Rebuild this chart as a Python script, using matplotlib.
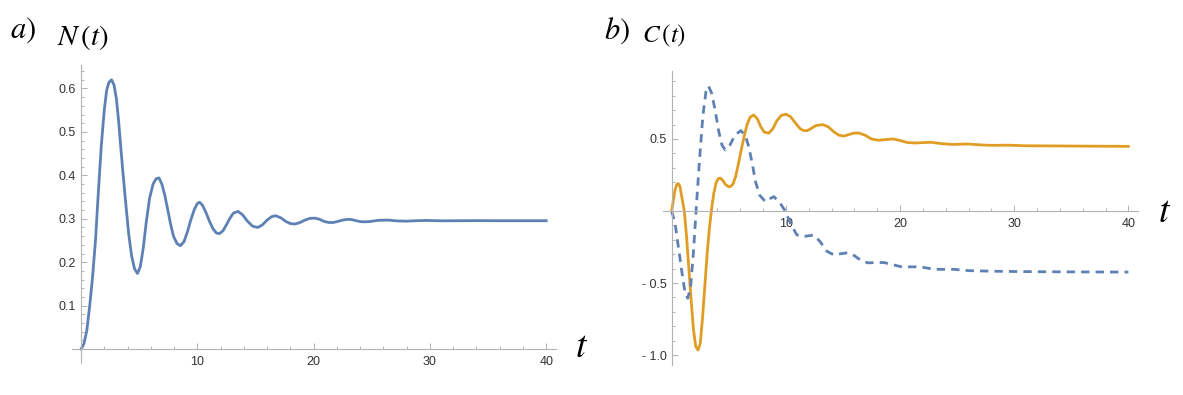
import numpy as np
import matplotlib
matplotlib.use("Agg")
from matplotlib import pyplot as plt
from matplotlib.ticker import FixedLocator, FixedFormatter

# panel a) N(t)
t_n = [0, 0.25, 0.5, 0.75, 1.0, 1.25, 1.5, 1.75, 2.0, 2.2, 2.4, 2.63, 2.85, 3.05,
       3.25, 3.45, 3.65, 3.85, 4.1, 4.35, 4.6, 4.86, 5.1, 5.35, 5.6, 5.9, 6.2, 6.45,
       6.71, 6.95, 7.2, 7.45, 7.7, 7.95, 8.25, 8.54, 8.85, 9.15, 9.45, 9.75, 10.0,
       10.2, 10.45, 10.75, 11.05, 11.35, 11.65, 11.91, 12.2, 12.5, 12.8, 13.1, 13.5,
       13.9, 14.3, 14.75, 15.2, 15.6, 16.0, 16.4, 16.75, 17.2, 17.6, 18.0, 18.4,
       18.8, 19.25, 19.7, 20.1, 20.5, 20.9, 21.3, 21.7, 22.1, 22.5, 22.85, 23.2,
       23.6, 24.0, 24.4, 24.8, 25.6, 26.4, 27.2, 28.0, 28.8, 29.6, 31, 32.5, 34,
       36, 38, 40]
n_vals = [0.000, 0.012, 0.043, 0.100, 0.168, 0.252, 0.365, 0.470, 0.550, 0.595,
          0.614, 0.620, 0.607, 0.575, 0.520, 0.455, 0.393, 0.335, 0.265, 0.215,
          0.185, 0.174, 0.190, 0.232, 0.290, 0.348, 0.380, 0.392, 0.394, 0.380,
          0.355, 0.322, 0.288, 0.260, 0.243, 0.238, 0.247, 0.270, 0.298, 0.322,
          0.335, 0.338, 0.331, 0.314, 0.294, 0.277, 0.267, 0.266, 0.272, 0.286,
          0.301, 0.313, 0.317, 0.309, 0.295, 0.283, 0.280, 0.286, 0.297, 0.305,
          0.307, 0.302, 0.294, 0.289, 0.288, 0.291, 0.297, 0.301, 0.3015, 0.299,
          0.294, 0.2915, 0.2915, 0.294, 0.297, 0.2985, 0.2985, 0.296, 0.2935,
          0.293, 0.2935, 0.2965, 0.297, 0.295, 0.2945, 0.2955, 0.2962, 0.2953,
          0.2955, 0.2957, 0.2955, 0.2955, 0.2955]

# panel b) C(t), solid orange
t_c1 = [0, 0.15, 0.3, 0.45, 0.58, 0.72, 0.9, 1.1, 1.3, 1.5, 1.7, 1.9, 2.1, 2.3,
        2.5, 2.7, 2.9, 3.1, 3.3, 3.5, 3.7, 3.9, 4.1, 4.24, 4.45, 4.7, 4.95, 5.12,
        5.35, 5.6, 5.85, 6.1, 6.35, 6.6, 6.85, 7.18, 7.5, 7.8, 8.1, 8.5, 8.85, 9.2,
        9.6, 10.0, 10.4, 10.8, 11.2, 11.5, 11.84, 12.2, 12.6, 13.2, 13.7, 14.2,
        14.6, 15.04, 15.5, 15.9, 16.35, 16.9, 17.5, 18.1, 18.7, 19.4, 20.0, 20.6,
        21.3, 22.0, 22.7, 23.6, 24.6, 25.3, 26.0, 27.0, 28.0, 29.5, 31, 33, 35,
        37.5, 40]
c1_vals = [0.0, 0.08, 0.15, 0.185, 0.19, 0.17, 0.09, 0.0, -0.18, -0.40, -0.62,
           -0.82, -0.94, -0.965, -0.92, -0.74, -0.52, -0.30, -0.12, 0.02, 0.13,
           0.20, 0.226, 0.228, 0.215, 0.185, 0.17, 0.169, 0.185, 0.24, 0.33, 0.43,
           0.52, 0.60, 0.65, 0.667, 0.64, 0.585, 0.548, 0.54, 0.57, 0.625, 0.664,
           0.672, 0.655, 0.615, 0.575, 0.56, 0.557, 0.572, 0.592, 0.60, 0.585,
           0.55, 0.528, 0.52, 0.530, 0.540, 0.542, 0.528, 0.500, 0.491, 0.496,
           0.500, 0.490, 0.476, 0.472, 0.475, 0.477, 0.468, 0.462, 0.464, 0.465,
           0.459, 0.456, 0.457, 0.453, 0.452, 0.451, 0.450, 0.449]

# panel b) C(t), dashed blue
t_c2 = [0, 0.3, 0.6, 0.9, 1.15, 1.4, 1.65, 1.9, 2.13, 2.43, 2.72, 3.0, 3.22, 3.5,
        3.8, 4.1, 4.4, 4.68, 5.1, 5.55, 6.05, 6.45, 6.75, 7.05, 7.35, 7.7, 8.2,
        8.6, 8.95, 9.5, 9.95, 10.4, 10.95, 11.5, 12.0, 12.45, 13.0, 13.6, 14.2,
        14.8, 15.4, 16.0, 16.6, 17.2, 18.0, 18.6, 19.3, 20.1, 21.0, 21.7, 22.5,
        23.2, 24.7, 26.0, 28.0, 30.0, 33, 36, 40]
c2_vals = [0.0, -0.09, -0.26, -0.43, -0.56, -0.606, -0.53, -0.29, 0.0, 0.35, 0.655,
           0.83, 0.868, 0.817, 0.70, 0.56, 0.458, 0.424, 0.458, 0.528, 0.558,
           0.525, 0.445, 0.33, 0.20, 0.11, 0.065, 0.085, 0.10, 0.053, 0.0, -0.086,
           -0.165, -0.178, -0.172, -0.167, -0.213, -0.28, -0.305, -0.297, -0.29,
           -0.31, -0.345, -0.36, -0.358, -0.358, -0.372, -0.387, -0.388, -0.387,
           -0.398, -0.405, -0.405, -0.414, -0.418, -0.42, -0.422, -0.423, -0.424]

x_major = [10, 20, 30, 40]
x_minor = [2, 4, 6, 8, 12, 14, 16, 18, 22, 24, 26, 28, 32, 34, 36, 38]
n_major = [0.1, 0.2, 0.3, 0.4, 0.5, 0.6]
c_major = [0.5, -0.5, -1.0]
c_labels = ["0.5", "- 0.5", "- 1.0"]

BLUE = "#5e81b5"
ORANGE = "#e19c24"
AXIS = "#b3b3b3"
LABEL = "#333333"

plt.rcParams["mathtext.fontset"] = "stix"
plt.rcParams["font.family"] = ["Liberation Sans", "DejaVu Sans"]


def style_axes(ax, ymajor, ylabels, yminor):
    for side in ("top", "right"):
        ax.spines[side].set_visible(False)
    ax.spines["left"].set_position(("data", 0))
    ax.spines["bottom"].set_position(("data", 0))
    for side in ("left", "bottom"):
        ax.spines[side].set_color(AXIS)
        ax.spines[side].set_linewidth(0.8)
    ax.xaxis.set_major_locator(FixedLocator(x_major))
    ax.xaxis.set_major_formatter(FixedFormatter([str(v) for v in x_major]))
    ax.xaxis.set_minor_locator(FixedLocator(x_minor))
    ax.yaxis.set_major_locator(FixedLocator(ymajor))
    ax.yaxis.set_major_formatter(FixedFormatter(ylabels))
    ax.yaxis.set_minor_locator(FixedLocator(yminor))
    ax.tick_params(which="both", direction="in", color=AXIS, width=0.7,
                   labelsize=9, labelcolor=LABEL)
    ax.tick_params(which="major", length=4.5)
    ax.tick_params(which="minor", length=2.3)
    ax.tick_params(axis="x", pad=5)
    ax.tick_params(axis="y", pad=3.5)
    ax.set_facecolor("none")


fig = plt.figure(figsize=(11.83, 3.95), dpi=100)
W, H = 1183.0, 395.0

# panel a
ax1 = fig.add_axes([71.7 / W, (H - 363) / H, 483.8 / W, 298 / H])
ax1.plot(t_n, n_vals, color=BLUE, lw=2.0, solid_joinstyle="round")
ax1.set_xlim(-0.8, 40.8)
ax1.set_ylim(-0.032, 0.654)
n_minor = [v / 100 for v in range(2, 66, 2) if v % 10 != 0]
style_axes(ax1, n_major, [f"{v:.1f}" for v in n_major], n_minor)

# panel b
ax2 = fig.add_axes([662.6 / W, (H - 365.1) / H, 474.9 / W, 293.8 / H])
ax2.plot(t_c1, c1_vals, color=ORANGE, lw=2.0, solid_joinstyle="round")
ax2.plot(t_c2, c2_vals, color=BLUE, lw=2.0, linestyle=(0, (3.0, 2.2)))
ax2.set_xlim(-0.8, 40.8)
ax2.set_ylim(-1.07, 0.97)
c_minor = [v / 10 for v in range(-10, 10) if v not in (-10, -5, 0, 5)]
style_axes(ax2, c_major, c_labels, c_minor)

# titles and axis names
fig.text(10 / W, 1 - 30 / H, r"$a)$", fontsize=22, va="center", ha="left")
fig.text(57 / W, 1 - 38 / H, r"$N\,(t)$", fontsize=21, va="center", ha="left")
fig.text(582 / W, 1 - 347 / H, "$t$", fontsize=27, va="center", ha="center")
fig.text(604 / W, 1 - 31 / H, r"$b)$", fontsize=22, va="center", ha="left")
fig.text(642 / W, 1 - 36 / H, r"$C\,(t)$", fontsize=18, va="center", ha="left")
fig.text(1165 / W, 1 - 212 / H, "$t$", fontsize=27, va="center", ha="center")

fig.savefig("out.png", dpi=100, facecolor="white")
